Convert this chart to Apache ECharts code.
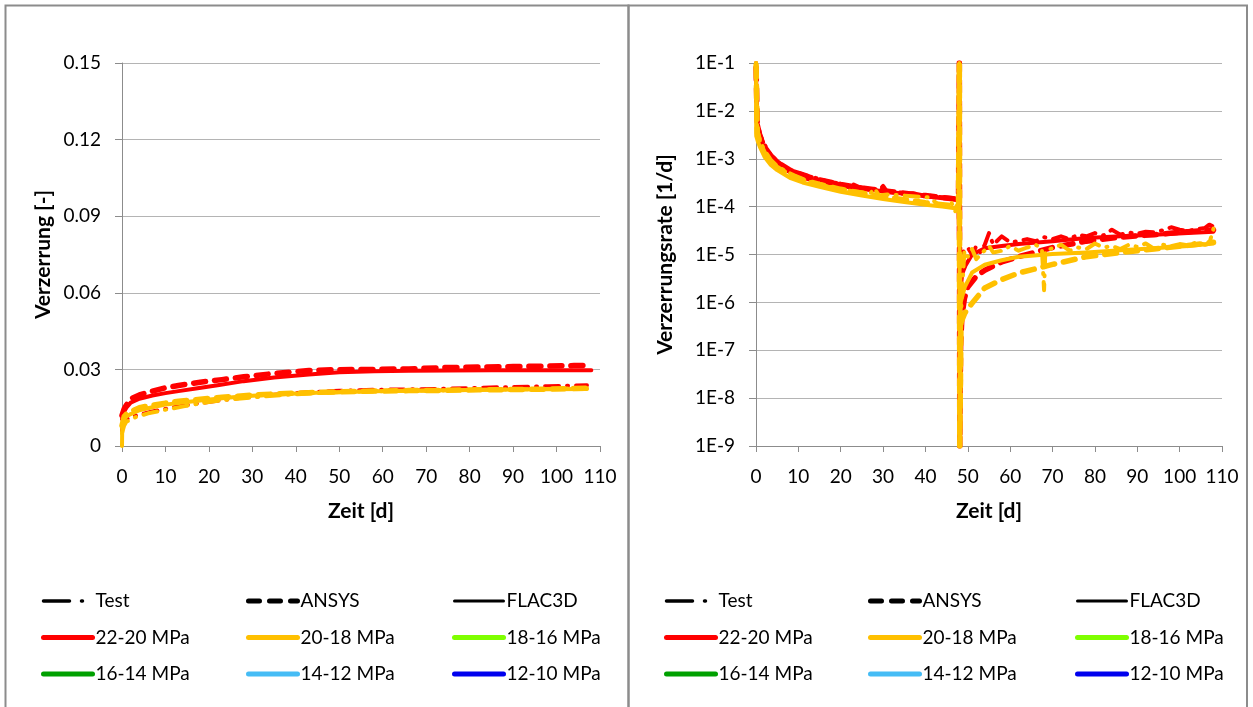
<!DOCTYPE html>
<html><head><meta charset="utf-8">
<script src="https://cdn.jsdelivr.net/npm/echarts@6/dist/echarts.min.js"></script>
<style>html,body{margin:0;padding:0;background:#fff}#c{width:1253px;height:707px}</style>
</head><body><div id="c"></div><script>
// ---------- DATA (time [d], value) ----------
const xTicks = {min: 0, max: 110, step: 10};
const strainTicks = {min: 0, max: 0.15, step: 0.03};
const rateTicks = {minExp: -9, maxExp: -1};

// Left: Verzerrung [-]
const strainTest22 = [[0,0.006],[0.3,0.009],[1,0.0105],[2,0.0114],[4,0.0122],[7,0.0135],[10,0.0145],[14,0.0158],[18,0.0168],[23,0.018],[28,0.019],[35,0.0201],[42,0.021],[50,0.0216],[58,0.022],[66,0.0222],[74,0.0224],[82,0.0228],[90,0.0231],[98,0.0234],[107,0.0238]];
const strainAnsys22 = [[0,0.012],[0.5,0.0145],[1,0.016],[2,0.0185],[4,0.02],[7,0.0215],[10,0.0228],[13,0.0237],[18,0.025],[23,0.026],[28,0.0271],[35,0.0284],[43,0.0296],[50,0.0299],[58,0.03],[66,0.0302],[74,0.0307],[82,0.0309],[90,0.0311],[98,0.0313],[104,0.0315],[107,0.0316]];
const strainFlac22 = [[0,0.0105],[0.5,0.0135],[1,0.015],[2,0.017],[4,0.0185],[7,0.0198],[10,0.0207],[13,0.0215],[17,0.0225],[22,0.0238],[28,0.0254],[35,0.0268],[43,0.028],[50,0.0289],[58,0.0293],[66,0.0295],[75,0.0296],[85,0.0297],[95,0.0297],[108,0.0297]];
const strainTest20 = [[0,0.005],[0.5,0.008],[1,0.0095],[3,0.0112],[6,0.0128],[10,0.0142],[15,0.0158],[20,0.0172],[25,0.0183],[30,0.019],[37,0.02],[45,0.0207],[55,0.0213],[65,0.0216],[75,0.0218],[85,0.0221],[95,0.0223],[107,0.0226]];
const strainAnsys20 = [[0,0.008],[0.5,0.0115],[1,0.0125],[2,0.0135],[4,0.015],[7,0.016],[10,0.0168],[13,0.0175],[18,0.0183],[23,0.0191],[28,0.0197],[35,0.0204],[43,0.0209],[50,0.0212],[58,0.0215],[66,0.0217],[74,0.0218],[82,0.022],[90,0.0221],[98,0.0223],[107,0.0226]];
const strainFlac20 = [[0,0],[0.05,0.007],[0.5,0.0105],[1,0.0115],[2,0.0125],[4,0.014],[7,0.0152],[10,0.0162],[13,0.0168],[18,0.0178],[23,0.0187],[28,0.0195],[35,0.0202],[43,0.0208],[50,0.0211],[58,0.0214],[66,0.0216],[74,0.0218],[82,0.0219],[90,0.0221],[98,0.0222],[107,0.0223]];

// Right: Verzerrungsrate [1/d]
const rateTest22 = [[0.02,0.1],[0.3,6e-3],[1,3.2e-3],[2,2e-3],[3.5,1.2e-3],[5,9e-4],[7,6.5e-4],[9,5.5e-4],[11,4.8e-4],[13,4.2e-4],[15,3.8e-4],[17,3.3e-4],[19,3.1e-4],[21,2.6e-4],[23,2.9e-4],[25,2.4e-4],[27,2.5e-4],[29,2.2e-4],[30,2.7e-4],[31,2e-4],[33,2.1e-4],[35,1.85e-4],[37,1.9e-4],[39,1.75e-4],[41,1.7e-4],[43,1.6e-4],[45,1.55e-4],[47,1.5e-4],[47.8,1.3e-4],[48,0.1],[48.1,1e-9],[48.4,5e-6],[49,1.2e-5],[50,1.4e-5],[51,1.0e-5],[52,1.5e-5],[53,1.1e-5],[54,1.6e-5],[55,2.8e-5],[56,1.6e-5],[58,2.4e-5],[60,1.8e-5],[62,1.9e-5],[64,2.1e-5],[66,1.9e-5],[68,2.3e-5],[70,2.1e-5],[72,2.4e-5],[74,2.1e-5],[76,2.6e-5],[78,2.4e-5],[80,2.8e-5],[82,2.5e-5],[84,3.3e-5],[86,2.6e-5],[88,2.9e-5],[90,2.7e-5],[92,3e-5],[94,2.9e-5],[96,3.2e-5],[98,3.7e-5],[100,3.3e-5],[102,3.1e-5],[104,3.4e-5],[106,3.6e-5],[107,4.2e-5],[108,3.8e-5]];
const rateAnsys22 = [[0.02,0.08],[0.3,5e-3],[1,2.8e-3],[2,1.8e-3],[3.5,1.15e-3],[5,8.5e-4],[8,5.8e-4],[11,4.5e-4],[15,3.6e-4],[20,2.9e-4],[25,2.45e-4],[30,2.15e-4],[35,1.9e-4],[40,1.7e-4],[44,1.55e-4],[47.8,1.4e-4],[48,0.1],[48.1,1e-9],[48.3,1.2e-7],[48.6,5e-7],[49.2,1.2e-6],[50,2.1e-6],[52,3.5e-6],[54,4.7e-6],[58,7e-6],[62,9e-6],[70,1.4e-5],[78,1.9e-5],[86,2.3e-5],[94,2.6e-5],[102,3e-5],[108,3.3e-5]];
const rateFlac22 = [[0.02,0.05],[0.3,4e-3],[1,2.5e-3],[2,1.6e-3],[3.5,1.05e-3],[5,8e-4],[8,5.2e-4],[11,4e-4],[15,3.3e-4],[20,2.7e-4],[25,2.35e-4],[30,2.1e-4],[35,1.85e-4],[40,1.65e-4],[44,1.5e-4],[47.8,1.4e-4],[48.1,1e-6],[48.3,2e-6],[48.7,4e-6],[49.5,6e-6],[51,1e-5],[54,1.35e-5],[58,1.5e-5],[62,1.65e-5],[70,1.9e-5],[78,2.2e-5],[86,2.4e-5],[94,2.6e-5],[102,2.8e-5],[108,3.0e-5]];
const rateTest20 = [[0.02,0.1],[0.3,4e-3],[1,2.3e-3],[2,1.5e-3],[3.5,9.5e-4],[5,7e-4],[7,5.5e-4],[9,4.5e-4],[11,3.8e-4],[13,3.2e-4],[15,3e-4],[17,2.6e-4],[19,2.5e-4],[21,2.2e-4],[23,2.1e-4],[25,2e-4],[27,1.9e-4],[28,2.4e-4],[29,1.7e-4],[31,1.8e-4],[33,1.75e-4],[35,1.7e-4],[37,1.65e-4],[39,1.6e-4],[41,1.55e-4],[43,1.1e-4],[45,1.05e-4],[46,1.3e-4],[47,8e-5],[47.8,8.5e-5],[48,0.1],[48.1,1e-9],[48.3,1e-9],[48.5,1e-6],[49.2,1.2e-5],[50,9e-6],[51,1.3e-5],[52,8e-6],[53,1e-5],[55,1.5e-5],[56,1.1e-5],[58,1.2e-5],[60,1.5e-5],[62,1.2e-5],[64,1.4e-5],[66,1.6e-5],[67.5,1.3e-5],[68,1.8e-6],[68.3,1.2e-5],[70,1.35e-5],[72,1.6e-5],[74,1.2e-5],[76,1.4e-5],[78,1.3e-5],[80,1.7e-5],[82,1.4e-5],[84,1.5e-5],[86,1.3e-5],[88,1.6e-5],[90,1.45e-5],[92,1.7e-5],[94,1.3e-5],[96,1.6e-5],[98,1.5e-5],[100,1.65e-5],[102,1.55e-5],[104,1.8e-5],[106,1.6e-5],[107,1.7e-5],[108,3.5e-5]];
const rateAnsys20 = [[0.02,0.09],[0.3,3.5e-3],[1,2e-3],[2,1.3e-3],[3.5,8.5e-4],[5,6.5e-4],[8,4.5e-4],[11,3.6e-4],[15,2.9e-4],[20,2.3e-4],[25,1.9e-4],[30,1.6e-4],[35,1.4e-4],[40,1.2e-4],[44,1.1e-4],[47.8,1e-4],[48,0.1],[48.1,1e-9],[48.4,3.8e-7],[49.3,6e-7],[51,9.6e-7],[54,2e-6],[58,3e-6],[62,4.1e-6],[70,6.2e-6],[78,9e-6],[86,1.1e-5],[94,1.3e-5],[102,1.55e-5],[108,1.8e-5]];
const rateFlac20 = [[0.02,0.1],[0.05,3e-3],[0.5,2.2e-3],[1,1.7e-3],[2,1.1e-3],[3.5,7.4e-4],[5,5.8e-4],[8,4e-4],[11,3.2e-4],[15,2.6e-4],[20,2.05e-4],[25,1.7e-4],[30,1.45e-4],[35,1.25e-4],[40,1.1e-4],[44,1e-4],[47.8,9e-5],[48,0.1],[48.1,1e-9],[48.3,1e-6],[49.3,2.1e-6],[51,4.2e-6],[54,6.1e-6],[58,7.6e-6],[62,9e-6],[70,1.02e-5],[78,1.1e-5],[86,1.22e-5],[94,1.35e-5],[102,1.5e-5],[108,1.7e-5]];

// Legend entries
const legendModels = ['Test', 'ANSYS', 'FLAC3D'];
const legendPressures = ['22-20 MPa', '20-18 MPa', '18-16 MPa', '16-14 MPa', '14-12 MPa', '12-10 MPa'];
const pressureColors = ['#ff0000', '#ffc000', '#7fff00', '#00a000', '#45bcf5', '#0000ee'];

// ---------- STYLES ----------
const FONT = 'Lato';
const styles = {
  test:  {width: 4, type: [14, 8, 1, 8]},
  ansys: {width: 5.5, type: [12, 9]},
  flac:  {width: 4, type: 'solid'}
};
function dataSeries(name, data, color, kind, idx) {
  return {
    type: 'line', name, data, xAxisIndex: idx, yAxisIndex: idx,
    showSymbol: false, symbol: 'none', silent: true, animation: false,
    lineStyle: {color, width: styles[kind].width, type: styles[kind].type, cap: 'round', join: 'round'},
    itemStyle: {color}
  };
}
function legendSeries(name, color, width, type) {
  return {
    type: 'line', name, data: [], xAxisIndex: 0, yAxisIndex: 0,
    showSymbol: false, symbol: 'none', animation: false,
    lineStyle: {color, width, type, cap: 'round'}, itemStyle: {color}
  };
}

const series = [
  dataSeries('Test 22-20', strainTest22, pressureColors[0], 'test', 0),
  dataSeries('ANSYS 22-20', strainAnsys22, pressureColors[0], 'ansys', 0),
  dataSeries('FLAC3D 22-20', strainFlac22, pressureColors[0], 'flac', 0),
  dataSeries('Test 20-18', strainTest20, pressureColors[1], 'test', 0),
  dataSeries('ANSYS 20-18', strainAnsys20, pressureColors[1], 'ansys', 0),
  dataSeries('FLAC3D 20-18', strainFlac20, pressureColors[1], 'flac', 0),
  dataSeries('Test 22-20', rateTest22, pressureColors[0], 'test', 1),
  dataSeries('ANSYS 22-20', rateAnsys22, pressureColors[0], 'ansys', 1),
  dataSeries('FLAC3D 22-20', rateFlac22, pressureColors[0], 'flac', 1),
  dataSeries('Test 20-18', rateTest20, pressureColors[1], 'test', 1),
  dataSeries('ANSYS 20-18', rateAnsys20, pressureColors[1], 'ansys', 1),
  dataSeries('FLAC3D 20-18', rateFlac20, pressureColors[1], 'flac', 1),
  legendSeries(legendModels[0], '#000', 3.5, [26, 12, 1, 30]),
  legendSeries(legendModels[1], '#000', 5, [11, 10]),
  legendSeries(legendModels[2], '#000', 3, 'solid')
];
legendPressures.forEach((p, i) => series.push(legendSeries(p, pressureColors[i], 5, 'solid')));

const textBase = {fontFamily: FONT, color: '#000'};
function legendCol(left, names) {
  return {
    orient: 'vertical', left, top: 591, padding: 0, itemWidth: 49, itemHeight: 14, itemGap: 16.5,
    selectedMode: false, data: names,
    itemStyle: {opacity: 0},
    lineStyle: {width: 'inherit', type: 'inherit', cap: 'round'},
    textStyle: Object.assign({fontSize: 19, lineHeight: 20, padding: [0, 0, 0, -2]}, textBase)
  };
}
const col1 = [legendModels[0], legendPressures[0], legendPressures[3]];
const col2 = [legendModels[1], legendPressures[1], legendPressures[4]];
const col3 = [legendModels[2], legendPressures[2], legendPressures[5]];

const axisLineStyle = {lineStyle: {color: '#8c8c8c', width: 1}};
function xAxis(idx) {
  return {
    type: 'value', gridIndex: idx, min: xTicks.min, max: xTicks.max, interval: xTicks.step,
    name: 'Zeit [d]', nameLocation: 'middle', nameGap: 55,
    nameTextStyle: Object.assign({fontSize: 21, fontWeight: 'bold'}, textBase),
    axisLine: axisLineStyle, axisTick: {show: true, length: 6, lineStyle: {color: '#8c8c8c'}},
    axisLabel: Object.assign({fontSize: 19, margin: 21}, textBase),
    splitLine: {show: false}
  };
}

const option = {
  animation: false,
  backgroundColor: '#fff',
  graphic: [
    {type: 'rect', shape: {x: 5.5, y: 5.5, width: 623, height: 720}, style: {fill: 'none', stroke: '#8c8c8c', lineWidth: 2}, silent: true},
    {type: 'rect', shape: {x: 628.5, y: 5.5, width: 618.5, height: 720}, style: {fill: 'none', stroke: '#8c8c8c', lineWidth: 2}, silent: true}
  ],
  grid: [
    {left: 122, top: 63, width: 478, height: 383, containLabel: false},
    {left: 756, top: 63, width: 466, height: 383, containLabel: false}
  ],
  xAxis: [xAxis(0), xAxis(1)],
  yAxis: [
    {
      type: 'value', gridIndex: 0, min: strainTicks.min, max: strainTicks.max, interval: strainTicks.step,
      name: 'Verzerrung [-]', nameLocation: 'middle', nameGap: 68,
      nameTextStyle: Object.assign({fontSize: 21, fontWeight: 'bold'}, textBase),
      axisLine: Object.assign({show: true}, axisLineStyle),
      axisTick: {show: true, length: 7, lineStyle: {color: '#8c8c8c'}},
      axisLabel: Object.assign({fontSize: 19, margin: 21, formatter: v => v === 0 ? '0' : v.toFixed(2)}, textBase),
      splitLine: {show: true, lineStyle: {color: '#b4b4b4', width: 1}}
    },
    {
      type: 'log', gridIndex: 1, logBase: 10, min: Math.pow(10, rateTicks.minExp), max: Math.pow(10, rateTicks.maxExp), interval: 1,
      name: 'Verzerrungsrate [1/d]', nameLocation: 'middle', nameGap: 80,
      nameTextStyle: Object.assign({fontSize: 21, fontWeight: 'bold'}, textBase),
      axisLine: Object.assign({show: true}, axisLineStyle),
      axisTick: {show: true, length: 7, lineStyle: {color: '#8c8c8c'}},
      axisLabel: Object.assign({fontSize: 19, margin: 21, formatter: v => '1E' + Math.round(Math.log10(v))}, textBase),
      splitLine: {show: true, lineStyle: {color: '#b4b4b4', width: 1}}
    }
  ],
  legend: [
    legendCol(41, col1), legendCol(246, col2), legendCol(452, col3),
    legendCol(664, col1), legendCol(868, col2), legendCol(1075, col3)
  ],
  series
};
const chart = echarts.init(document.getElementById('c'), null, {renderer: 'canvas'});
chart.setOption(option);
</script></body></html>
